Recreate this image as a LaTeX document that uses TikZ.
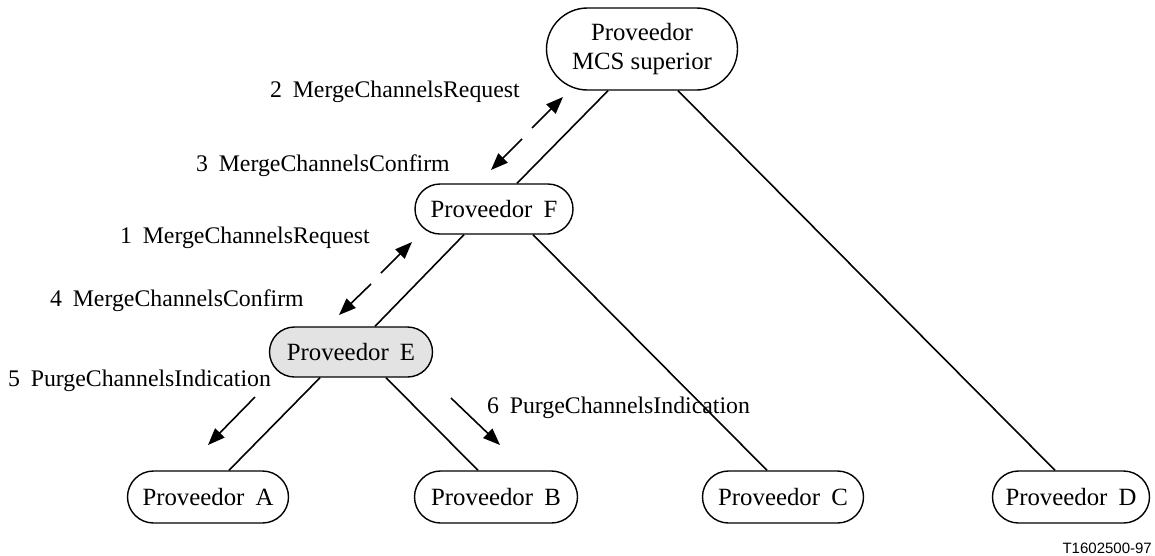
\documentclass[tikz,border=0pt]{standalone}
\usepackage{fontspec}
\setmainfont{Liberation Serif}
\newfontfamily\refsans{Liberation Sans}
\usetikzlibrary{arrows.meta,shapes.misc}
\newcommand{\wgap}{\hspace{0.45em}}
\begin{document}
\begin{tikzpicture}[x=1pt,y=-1pt,
  every node/.style={font=\fontsize{23.8}{27}\selectfont},
  prov/.style={draw, line width=1.4pt, rounded rectangle, inner sep=0pt,
    minimum height=52pt, align=center, font=\fontsize{24.8}{28}\selectfont},
  tree/.style={line width=1.6pt},
  msg/.style={line width=1.6pt, -{Triangle[length=17pt,width=13pt]}},
  lbl/.style={anchor=base west, inner sep=0pt}]
\useasboundingbox (0,0) rectangle (1155,555);

% providers
\node[prov, minimum width=191pt, minimum height=82pt]
  (top) at (642,49) {Proveedor\\[1pt]MCS superior};
\node[prov, minimum width=158pt, minimum height=50pt] (F) at (494,209) {Proveedor\wgap F};
\node[prov, fill=black!11, minimum width=163pt, minimum height=50pt] (E) at (351,352) {Proveedor\wgap E};
\node[prov, minimum width=161pt] (A) at (208,497) {Proveedor\wgap A};
\node[prov, minimum width=163pt] (B) at (496,497) {Proveedor\wgap B};
\node[prov, minimum width=161pt] (C) at (783,497) {Proveedor\wgap C};
\node[prov, minimum width=157pt] (D) at (1071,497) {Proveedor\wgap D};

% tree links
\draw[tree] ([xshift=-34pt]top.south) -- ([xshift=23pt]F.north);
\draw[tree] ([xshift=36pt]top.south) -- ([xshift=-16pt]D.north);
\draw[tree] ([xshift=-30pt]F.south) -- ([xshift=24pt]E.north);
\draw[tree] ([xshift=39pt]F.south) -- ([xshift=-16pt]C.north);
\draw[tree] ([xshift=-31pt]E.south) -- ([xshift=21pt]A.north);
\draw[tree] ([xshift=35pt]E.south) -- ([xshift=-18pt]B.north);

% message arrows
\coordinate (m2tip) at (563,97);
\coordinate (m2gap) at (532,128);
\coordinate (m3gap) at (522,139);
\coordinate (m3tip) at (491,170);
\coordinate (m1tip) at (412,242);
\coordinate (m1gap) at (381,273);
\coordinate (m4gap) at (371,284);
\coordinate (m4tip) at (339,315);
\coordinate (m5from) at (255,397);
\coordinate (m5tip) at (208,445);
\coordinate (m6from) at (451,398);
\coordinate (m6tip) at (500,445);
\draw[msg] (m2gap) -- (m2tip);
\draw[msg] (m3gap) -- (m3tip);
\draw[msg] (m1gap) -- (m1tip);
\draw[msg] (m4gap) -- (m4tip);
\draw[msg] (m5from) -- (m5tip);
\draw[msg] (m6from) -- (m6tip);

% message labels
\node[lbl] (l2) at (270,97) {2\wgap MergeChannelsRequest};
\node[lbl] (l3) at (196,171) {3\wgap MergeChannelsConfirm};
\node[lbl] (l1) at (120,243) {1\wgap MergeChannelsRequest};
\node[lbl] (l4) at (50,306) {4\wgap MergeChannelsConfirm};
\node[lbl] (l5) at (8,386) {5\wgap PurgeChannelsIndication};
\node[lbl] (l6) at (487,413) {6\wgap PurgeChannelsIndication};

% figure reference
\node[anchor=base east, inner sep=0pt, font=\refsans\fontsize{15}{17}\selectfont]
  (ref) at (1152,553) {T1602500-97};
\end{tikzpicture}
\end{document}
